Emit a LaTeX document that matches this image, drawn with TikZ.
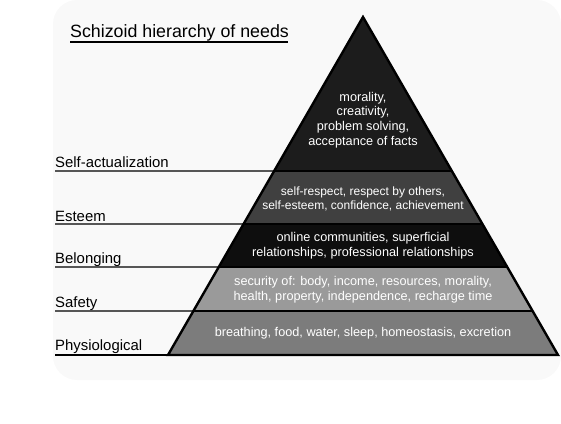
\documentclass[tikz,border=0pt]{standalone}
\usepackage{fontspec}
\setmainfont{Liberation Sans}
\usetikzlibrary{calc}
\definecolor{bgbox}{HTML}{F9F9F9}
\definecolor{cTop}{HTML}{1C1C1C}
\definecolor{cEst}{HTML}{404040}
\definecolor{cBel}{HTML}{0E0E0E}
\definecolor{cSaf}{HTML}{9A9A9A}
\definecolor{cPhy}{HTML}{7C7C7C}
\begin{document}
\begin{tikzpicture}[x=1pt,y=-1pt,
  lvl/.style={anchor=base west,inner sep=0pt,font=\fontsize{14.9}{16}\selectfont},
  lvlline/.style={line width=1.4pt,black},
  bandtext/.style={align=center,text=white,inner sep=0pt,font=\fontsize{12.7}{14.6}\selectfont},
  sep/.style={line width=1.6pt,black}]
\useasboundingbox (0,0) rectangle (561,423);
\fill[bgbox,rounded corners=24pt] (53,0) rectangle (561,380);
% pyramid corners
\coordinate (apex) at (363,17);
\coordinate (bl) at (168,355);
\coordinate (br) at (558,355);
\coordinate (l1) at ($(apex)!0.4556!(bl)$);
\coordinate (r1) at ($(apex)!0.4556!(br)$);
\coordinate (l2) at ($(apex)!0.6124!(bl)$);
\coordinate (r2) at ($(apex)!0.6124!(br)$);
\coordinate (l3) at ($(apex)!0.7396!(bl)$);
\coordinate (r3) at ($(apex)!0.7396!(br)$);
\coordinate (l4) at ($(apex)!0.8698!(bl)$);
\coordinate (r4) at ($(apex)!0.8698!(br)$);
% bands
\fill[cTop] (apex) -- (r1) -- (l1) -- cycle;
\fill[cEst] (l1) -- (r1) -- (r2) -- (l2) -- cycle;
\fill[cBel] (l2) -- (r2) -- (r3) -- (l3) -- cycle;
\fill[cSaf] (l3) -- (r3) -- (r4) -- (l4) -- cycle;
\fill[cPhy] (l4) -- (r4) -- (br) -- (bl) -- cycle;
% separators
\draw[sep] (l1) -- (r1);
\draw[sep] (l2) -- (r2);
\draw[sep] (l3) -- (r3);
\draw[sep] (l4) -- (r4);
\draw[line width=2.4pt,line join=miter] (apex) -- (br) -- (bl) -- cycle;
% band texts
\node[bandtext] (tTop) at (363,120) {morality,\\creativity,\\problem solving,\\acceptance of facts};
\node[bandtext,font=\fontsize{12}{13.4}\selectfont] (tEst) at (363,199) {self-respect, respect by others,\\self-esteem, confidence, achievement};
\node[bandtext] (tBel) at (363,246) {online communities, superficial\\relationships, professional relationships};
\node[bandtext] (tSaf) at (363,290) {security of: body, income, resources, morality,\\health, property, independence, recharge time};
\node[bandtext] (tPhy) at (363,333) {breathing, food, water, sleep, homeostasis, excretion};
% level labels
\node[lvl] (sa) at (55,167) {Self-actualization};
\node[lvl] (es) at (55,221) {Esteem};
\node[lvl] (be) at (55,263) {Belonging};
\node[lvl] (sf) at (55,307) {Safety};
\node[lvl] (ph) at (55,350) {Physiological};
\coordinate (s1) at (55,171);
\coordinate (s2) at (55,224);
\coordinate (s3) at (55,267);
\coordinate (s4) at (55,311);
\coordinate (s5) at (55,355);
\draw[lvlline] (s1) -- (l1);
\draw[lvlline] (s2) -- (l2);
\draw[lvlline] (s3) -- (l3);
\draw[lvlline] (s4) -- (l4);
\draw[lvlline] (s5) -- (bl);
% title
\node[anchor=base west,inner sep=0pt,font=\fontsize{17.8}{20}\selectfont] (title) at (70,37) {Schizoid hierarchy of needs};
\coordinate (u1) at (70,42);
\coordinate (u2) at (288,42);
\draw[line width=1.3pt] (u1) -- (u2);
\end{tikzpicture}
\end{document}
